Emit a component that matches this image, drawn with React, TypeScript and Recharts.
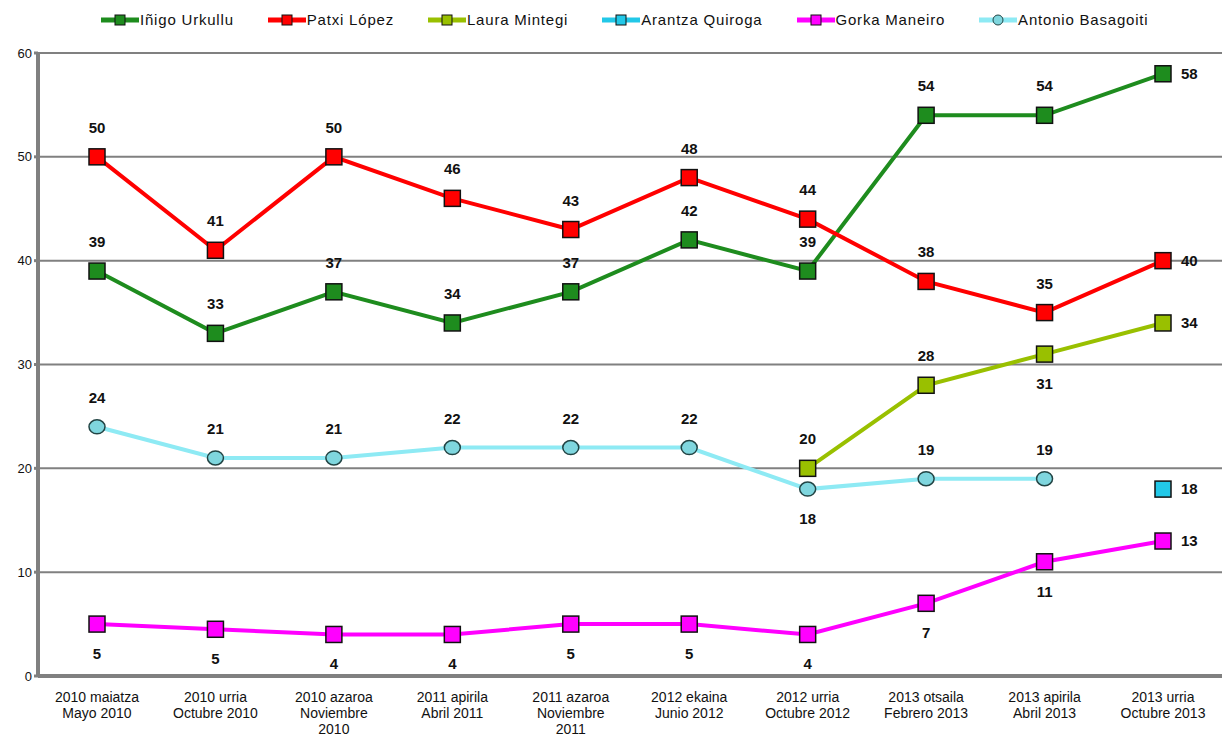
import React from 'react';
import { LineChart, Line, XAxis, YAxis, CartesianGrid, LabelList } from 'recharts';

// categories (Basque / Spanish)
const periods = [
  '2010 maiatza|Mayo 2010',
  '2010 urria|Octubre 2010',
  '2010 azaroa|Noviembre|2010',
  '2011 apirila|Abril 2011',
  '2011 azaroa|Noviembre|2011',
  '2012 ekaina|Junio 2012',
  '2012 urria|Octubre 2012',
  '2013 otsaila|Febrero 2013',
  '2013 apirila|Abril 2013',
  '2013 urria|Octubre 2013',
];

const urkullu = [39, 33, 37, 34, 37, 42, 39, 54, 54, 58];
const lopez = [50, 41, 50, 46, 43, 48, 44, 38, 35, 40];
const mintegi = [null, null, null, null, null, null, 20, 28, 31, 34];
const quiroga = [null, null, null, null, null, null, null, null, null, 18];
const maneiro = [5, 4.5, 4, 4, 5, 5, 4, 7, 11, 13];
const basagoiti = [24, 21, 21, 22, 22, 22, 18, 19, 19, null];

const yTicks = [0, 10, 20, 30, 40, 50, 60];

const data = periods.map((p, i) => ({
  name: p,
  urkullu: urkullu[i],
  lopez: lopez[i],
  mintegi: mintegi[i],
  quiroga: quiroga[i],
  maneiro: maneiro[i],
  basagoiti: basagoiti[i],
}));

type Pos = 'top' | 'bottom' | 'right';

const series: {
  key: string;
  name: string;
  line: string;
  fill: string;
  shape: 'square' | 'circle';
  pos: (i: number) => Pos;
}[] = [
  { key: 'urkullu', name: 'Iñigo Urkullu', line: '#1e8c1e', fill: '#1e8c1e', shape: 'square', pos: (i) => (i === 9 ? 'right' : 'top') },
  { key: 'lopez', name: 'Patxi López', line: '#ff0000', fill: '#ff0000', shape: 'square', pos: (i) => (i === 9 ? 'right' : 'top') },
  { key: 'mintegi', name: 'Laura Mintegi', line: '#99c000', fill: '#99c000', shape: 'square', pos: (i) => (i === 9 ? 'right' : i === 8 ? 'bottom' : 'top') },
  { key: 'quiroga', name: 'Arantza Quiroga', line: '#22c8e8', fill: '#22c8e8', shape: 'square', pos: () => 'right' },
  { key: 'maneiro', name: 'Gorka Maneiro', line: '#ff00ff', fill: '#ff00ff', shape: 'square', pos: (i) => (i === 9 ? 'right' : 'bottom') },
  { key: 'basagoiti', name: 'Antonio Basagoiti', line: '#8eeaf4', fill: '#7fd6de', shape: 'circle', pos: (i) => (i === 6 ? 'bottom' : 'top') },
];

const FONT = '"Liberation Sans", Arial, sans-serif';

const makeDot = (fill: string, shape: 'square' | 'circle') => (props: any) => {
  const { cx, cy, index, value } = props;
  if (cx == null || cy == null || value == null) return <g key={`d-${index}`} />;
  if (shape === 'circle') {
    return <ellipse key={`d-${index}`} cx={cx} cy={cy} rx={8} ry={7} fill={fill} stroke="#224444" strokeWidth={1.5} />;
  }
  return <rect key={`d-${index}`} x={cx - 8} y={cy - 8} width={16} height={16} fill={fill} stroke="#111" strokeWidth={1.5} />;
};

const makeLabel = (pos: (i: number) => Pos) => (props: any) => {
  const { x, y, value, index } = props;
  if (value == null || x == null) return null;
  const p = pos(index);
  const text = Math.round(value);
  if (p === 'right') {
    return (
      <text x={x + 18} y={y} dy={5} textAnchor="start" fontSize={15} fontWeight="bold" fill="#111" fontFamily={FONT}>
        {text}
      </text>
    );
  }
  return (
    <text x={x} y={p === 'top' ? y - 29 : y + 30} dy={5} textAnchor="middle" fontSize={15} fontWeight="bold" fill="#111" fontFamily={FONT}>
      {text}
    </text>
  );
};

const XTick = (props: any) => {
  const { x, y, payload } = props;
  const lines = String(payload.value).split('|');
  return (
    <text x={x} y={y + 4} textAnchor="middle" fontSize={14} fill="#111" fontFamily={FONT}>
      {lines.map((l, i) => (
        <tspan key={i} x={x} dy={i === 0 ? 14 : 16}>
          {l}
        </tspan>
      ))}
    </text>
  );
};

const LegendRow = () => (
  <div
    style={{
      position: 'absolute',
      top: 11,
      left: 101,
      display: 'flex',
      gap: 34,
      fontFamily: FONT,
      fontSize: 15,
      letterSpacing: 0.8,
      color: '#111',
      whiteSpace: 'nowrap',
    }}
  >
    {series.map((s) => (
      <div key={s.key} style={{ display: 'flex', alignItems: 'center' }}>
        <svg width={38} height={16} style={{ marginRight: 1 }}>
          <line x1={0} y1={8} x2={38} y2={8} stroke={s.line} strokeWidth={5} />
          {s.shape === 'circle' ? (
            <ellipse cx={19} cy={8} rx={5} ry={5} fill={s.fill} stroke="#224444" strokeWidth={1} />
          ) : (
            <rect x={14} y={3} width={10} height={10} fill={s.fill} stroke="#111" strokeWidth={1} />
          )}
        </svg>
        <span>{s.name}</span>
      </div>
    ))}
  </div>
);

export default function App() {
  return (
    <div style={{ position: 'absolute', left: 0, top: 0, width: 1229, height: 740, background: '#fff' }}>
      <LegendRow />
      <LineChart width={1229} height={740} data={data} margin={{ top: 53, right: 7, bottom: 0, left: 0 }}>
        <CartesianGrid vertical={false} stroke="#808080" strokeWidth={2} />
        <XAxis
          dataKey="name"
          interval={0}
          padding={{ left: 59, right: 59 }}
          tick={<XTick />}
          tickLine={false}
          axisLine={{ stroke: '#808080', strokeWidth: 4 }}
          height={64}
        />
        <YAxis
          domain={[0, 60]}
          ticks={yTicks}
          width={38}
          axisLine={{ stroke: '#808080', strokeWidth: 4 }}
          tickLine={{ stroke: '#808080', strokeWidth: 3 }}
          tickSize={4}
          tick={{ fontSize: 13, fill: '#111', fontFamily: FONT }}
        />
        {series.map((s) => (
          <Line
            key={s.key}
            dataKey={s.key}
            name={s.name}
            stroke={s.line}
            strokeWidth={4}
            connectNulls={false}
            dot={makeDot(s.fill, s.shape)}
            activeDot={false}
            isAnimationActive={false}
          >
            <LabelList dataKey={s.key} content={makeLabel(s.pos)} />
          </Line>
        ))}
      </LineChart>
    </div>
  );
}
